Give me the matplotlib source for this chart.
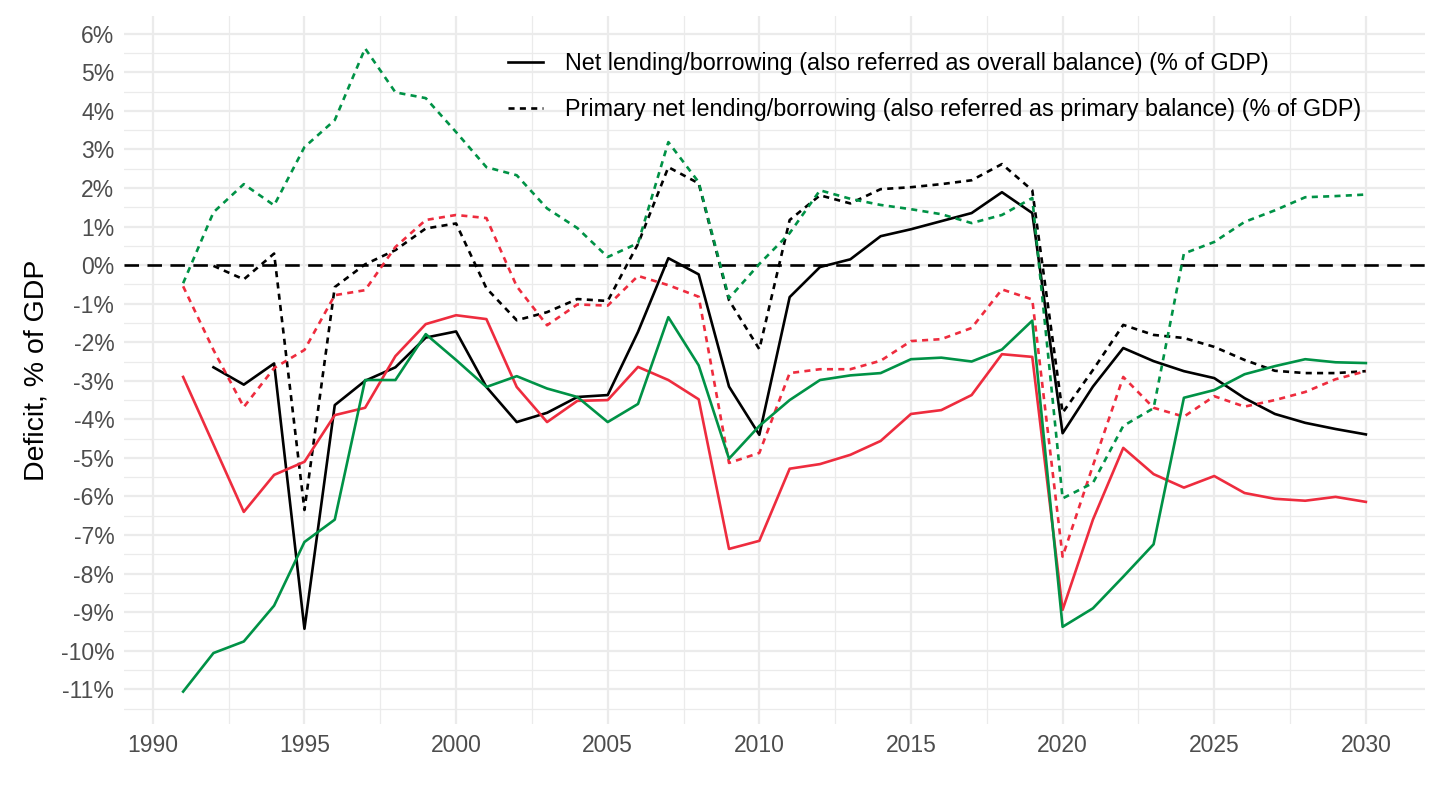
import numpy as np
import matplotlib.pyplot as plt
from matplotlib.ticker import MultipleLocator, FuncFormatter

plt.rcParams['font.family'] = ['Liberation Sans', 'DejaVu Sans']

# Years
years = list(range(1991, 2031))

# Black (net lending / primary), series start in 1992
black_years = list(range(1992, 2031))
black_net = [-2.65, -3.10, -2.55, -9.43, -3.63, -3.00, -2.65, -1.88, -1.72,
             -3.16, -4.07, -3.83, -3.42, -3.37, -1.73, 0.18, -0.24, -3.15,
             -4.40, -0.83, -0.05, 0.15, 0.75, 0.93, 1.14, 1.35, 1.89, 1.35,
             -4.36, -3.15, -2.15, -2.49, -2.75, -2.93, -3.45, -3.86, -4.09,
             -4.25, -4.39]
black_primary = [-0.02, -0.37, 0.30, -6.35, -0.57, 0.02, 0.39, 0.95, 1.08,
                 -0.60, -1.43, -1.22, -0.88, -0.93, 0.55, 2.54, 2.12, -0.91,
                 -2.18, 1.17, 1.81, 1.60, 1.97, 2.02, 2.10, 2.20, 2.62, 1.94,
                 -3.83, -2.72, -1.55, -1.81, -1.89, -2.12, -2.46, -2.74, -2.80,
                 -2.80, -2.75]

# Red
red_net = [-2.90, -4.65, -6.40, -5.44, -5.10, -3.89, -3.70, -2.36, -1.53, -1.30,
           -1.40, -3.16, -4.07, -3.52, -3.50, -2.64, -2.98, -3.48, -7.36, -7.15,
           -5.28, -5.16, -4.92, -4.56, -3.86, -3.76, -3.37, -2.31, -2.38, -8.94,
           -6.60, -4.74, -5.42, -5.77, -5.47, -5.91, -6.06, -6.11, -6.01, -6.14]
red_primary = [-0.55, -2.20, -3.68, -2.67, -2.20, -0.78, -0.65, 0.47, 1.17, 1.30,
               1.22, -0.55, -1.56, -1.02, -1.05, -0.28, -0.52, -0.82, -5.13, -4.87,
               -2.80, -2.70, -2.70, -2.48, -1.97, -1.92, -1.63, -0.63, -0.89, -7.56,
               -5.20, -2.90, -3.70, -3.93, -3.40, -3.67, -3.50, -3.29, -2.96, -2.75]

# Green
green_net = [-11.06, -10.06, -9.76, -8.83, -7.18, -6.60, -2.98, -2.98, -1.79, -2.46,
             -3.16, -2.88, -3.20, -3.42, -4.07, -3.60, -1.35, -2.60, -5.02, -4.17,
             -3.50, -2.98, -2.86, -2.80, -2.44, -2.40, -2.50, -2.19, -1.44, -9.38,
             -8.90, -8.08, -7.24, -3.44, -3.24, -2.83, -2.62, -2.44, -2.52, -2.54]
green_primary = [-0.47, 1.37, 2.10, 1.55, 3.06, 3.76, 5.62, 4.48, 4.33, 3.45,
                 2.54, 2.33, 1.47, 0.96, 0.21, 0.57, 3.19, 2.15, -0.86, 0.03,
                 0.83, 1.94, 1.72, 1.56, 1.45, 1.32, 1.09, 1.30, 1.74, -6.05,
                 -5.65, -4.17, -3.71, 0.30, 0.60, 1.12, 1.42, 1.76, 1.79, 1.83]

legend_labels = ['Net lending/borrowing (also referred as overall balance) (% of GDP)',
                 'Primary net lending/borrowing (also referred as primary balance) (% of GDP)']

RED = '#EE2C3E'
GREEN = '#009246'
dash_style = (0, (2.3, 2.0))

fig = plt.figure(figsize=(14.4, 8.1), dpi=100)
ax = fig.add_axes([124 / 1440, 1 - 724 / 810, (1425 - 124) / 1440, (724 - 16) / 810])

lw = 1.9
ax.plot(black_years, black_net, color='black', lw=lw, label=legend_labels[0])
ax.plot(black_years, black_primary, color='black', lw=lw, ls=dash_style, label=legend_labels[1])
ax.plot(years, red_net, color=RED, lw=lw)
ax.plot(years, red_primary, color=RED, lw=lw, ls=dash_style)
ax.plot(years, green_net, color=GREEN, lw=lw)
ax.plot(years, green_primary, color=GREEN, lw=lw, ls=dash_style)

ax.axhline(0, color='black', lw=1.9, ls=(0, (5.5, 3.2)), zorder=1)

# Axis ranges (ggplot-style 5% expansion)
ax.set_xlim(1989.05, 2031.95)
ax.set_ylim(-11.9, 6.46)

ax.xaxis.set_major_locator(MultipleLocator(5))
ax.xaxis.set_minor_locator(MultipleLocator(2.5))
ax.yaxis.set_major_locator(MultipleLocator(1))
ax.yaxis.set_minor_locator(MultipleLocator(0.5))
ax.yaxis.set_major_formatter(FuncFormatter(lambda v, p: f'{v:.0f}%'))

ax.grid(True, which='major', color='#EBEBEB', lw=1.6)
ax.grid(True, which='minor', color='#EBEBEB', lw=0.9)
ax.set_axisbelow(True)
for s in ax.spines.values():
    s.set_visible(False)
ax.tick_params(which='both', length=0)
ax.tick_params(axis='both', labelsize=16.5, labelcolor='#4D4D4D', pad=7)

ax.set_ylabel('Deficit, % of GDP', fontsize=20.5, labelpad=8)

leg = fig.legend(loc='upper left', bbox_to_anchor=(508 / 1440, 1 - 52 / 810),
                 frameon=False, fontsize=16.8, handlelength=1.5, handletextpad=0.95,
                 labelspacing=1.0, borderpad=0, borderaxespad=0)

fig.savefig('out.png', dpi=100)
